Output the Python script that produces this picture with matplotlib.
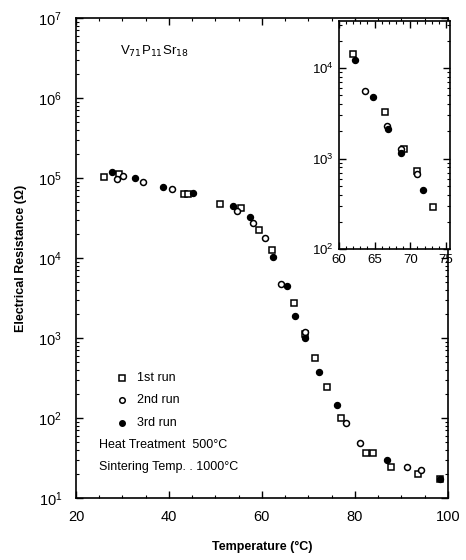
import numpy as np
import matplotlib
matplotlib.use("Agg")
import matplotlib.pyplot as plt
from matplotlib.ticker import LogLocator, MultipleLocator, NullFormatter

plt.rcParams['font.family'] = ['Liberation Sans', 'DejaVu Sans']

# --- data ---
run1_t = [26.0, 29.2, 43.2, 44.1, 51.0, 55.5, 59.4, 62.1, 66.9, 69.2, 71.5, 74.0,
          77.1, 82.4, 83.8, 87.7, 93.6, 98.3]
run1_r = [1.02e5, 1.12e5, 6.3e4, 6.3e4, 4.7e4, 4.2e4, 2.2e4, 1.26e4, 2.7e3, 1.12e3,
          5.6e2, 2.4e2, 1.0e2, 36, 36, 24, 20, 17]

run2_t = [28.8, 30.1, 34.4, 40.6, 54.6, 58.1, 60.6, 64.2, 69.2, 78.1, 81.1, 91.2, 94.3]
run2_r = [9.8e4, 1.07e5, 8.9e4, 7.2e4, 3.9e4, 2.75e4, 1.78e4, 4.7e3, 1.2e3, 87, 48,
          24, 22]

run3_t = [27.7, 32.7, 38.7, 45.2, 53.8, 57.4, 62.4, 65.3, 67.2, 69.2, 72.3, 76.1,
          87.0, 98.3]
run3_r = [1.19e5, 1.0e5, 7.8e4, 6.5e4, 4.5e4, 3.2e4, 1.02e4, 4.4e3, 1.9e3, 1.0e3,
          3.7e2, 1.45e2, 30, 17]

# inset (zoom of 60-75 C)
in1_t = [61.95, 66.5, 69.1, 70.9, 73.1]
in1_r = [1.43e4, 3.3e3, 1.26e3, 7.2e2, 2.95e2]
in2_t = [63.7, 66.8, 68.7, 70.9]
in2_r = [5.6e3, 2.3e3, 1.29e3, 6.8e2]
in3_t = [62.2, 64.8, 66.9, 68.7, 71.8]
in3_r = [1.23e4, 4.8e3, 2.14e3, 1.15e3, 4.5e2]

run_labels = ["1st run", "2nd run", "3rd run"]


def style_log_axis(ax):
    ax.set_yscale('log')
    ax.yaxis.set_major_locator(LogLocator(base=10, numticks=10))
    ax.yaxis.set_minor_locator(LogLocator(base=10, subs=np.arange(2, 10), numticks=20))
    ax.yaxis.set_minor_formatter(NullFormatter())
    ax.tick_params(which='both', direction='in', top=True, right=True)
    ax.tick_params(which='major', length=5, width=1.0)
    ax.tick_params(which='minor', length=2.5, width=0.8)
    for sp in ax.spines.values():
        sp.set_linewidth(1.2)


def draw_runs(ax, t1, r1, t2, r2, t3, r3, ms=4.3):
    ax.plot(t1, r1, 's', ms=ms, mfc='white', mec='black', mew=1.1, ls='none')
    ax.plot(t2, r2, 'o', ms=ms, mfc='white', mec='black', mew=1.1, ls='none')
    ax.plot(t3, r3, 'o', ms=ms, mfc='black', mec='black', ls='none')


fig = plt.figure(figsize=(4.66, 5.6), dpi=100)
ax = fig.add_axes([0.163, 0.111, 0.798, 0.857])
draw_runs(ax, run1_t, run1_r, run2_t, run2_r, run3_t, run3_r)
style_log_axis(ax)
ax.set_xlim(20, 100)
ax.set_ylim(10, 1e7)
ax.xaxis.set_major_locator(MultipleLocator(20))
ax.xaxis.set_minor_locator(MultipleLocator(5))
ax.tick_params(axis='both', which='major', labelsize=10.5)
ax.tick_params(axis='x', which='major', pad=9)
ax.tick_params(axis='y', which='major', pad=10)
ax.set_xlabel("Temperature (°C)", fontsize=9, fontweight='bold', labelpad=12)
ax.set_ylabel("Electrical Resistance (Ω)", fontsize=9, fontweight='bold', labelpad=8)

ax.text(29.5, 10**6.58, r"V$_{71}$P$_{11}$Sr$_{18}$", fontsize=9.5, va='center')

# legend drawn as text, as in the original
leg_x = 30.0
leg_y = [10**2.5, 10**2.22, 10**1.93]
ax.plot([leg_x], [leg_y[0]], 's', ms=4, mfc='white', mec='black', mew=1.1)
ax.plot([leg_x], [leg_y[1]], 'o', ms=4, mfc='white', mec='black', mew=1.1)
ax.plot([leg_x], [leg_y[2]], 'o', ms=4, mfc='black', mec='black')
for y, lab in zip(leg_y, run_labels):
    ax.text(leg_x + 3.2, y, lab, fontsize=9, va='center')
ax.text(25.0, 10**1.66, "Heat Treatment  500°C", fontsize=9, va='center')
ax.text(25.0, 10**1.38, "Sintering Temp. . 1000°C", fontsize=9, va='center')

# inset
axi = fig.add_axes([0.727, 0.555, 0.238, 0.408])
draw_runs(axi, in1_t, in1_r, in2_t, in2_r, in3_t, in3_r)
style_log_axis(axi)
axi.set_xlim(60, 75.5)
axi.set_ylim(100, 10**4.52)
axi.xaxis.set_major_locator(MultipleLocator(5))
axi.xaxis.set_minor_locator(MultipleLocator(1))
axi.tick_params(which='major', labelsize=9.5)

fig.savefig("out.png", dpi=100)
